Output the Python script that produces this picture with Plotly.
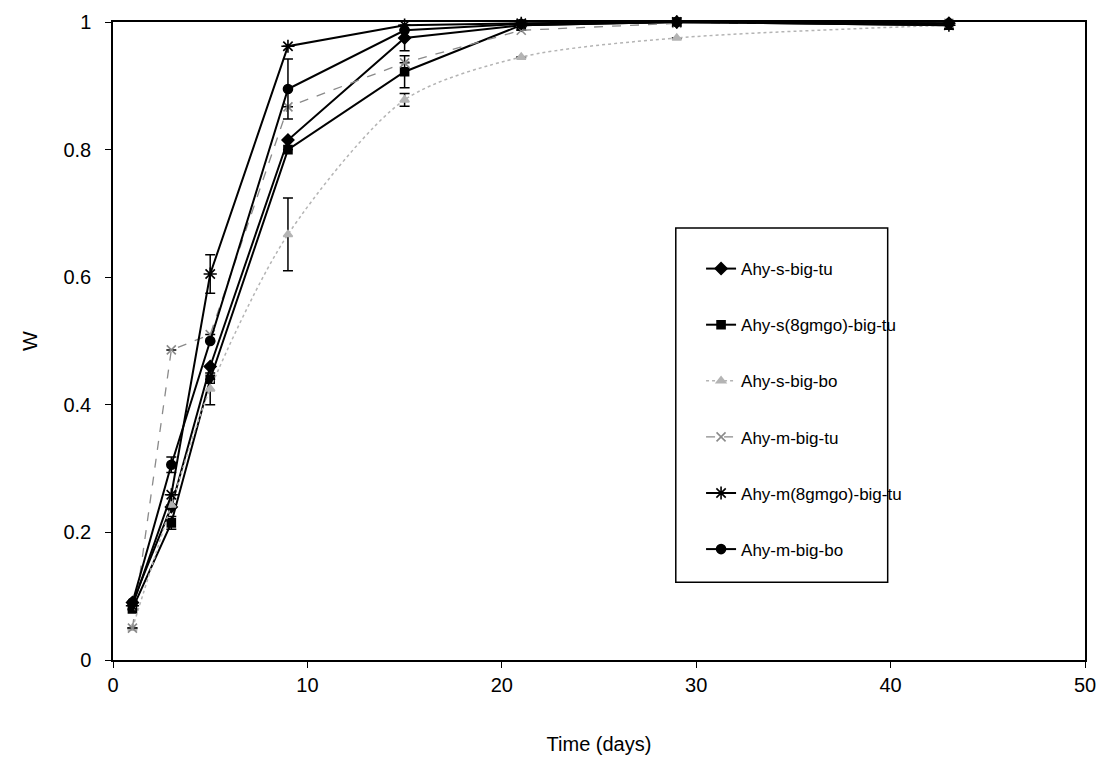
import plotly.graph_objects as go

# Sampling days
time = [1, 3, 5, 9, 15, 21, 29, 43]

# Fractional uptake W for each sample series
s_big_tu = [0.09, 0.24, 0.46, 0.815, 0.975, 0.995, 1.0, 0.998]
s8_big_tu = [0.08, 0.215, 0.44, 0.80, 0.922, 0.995, 1.0, 0.995]
s_big_bo = [0.05, 0.243, 0.425, 0.667, 0.878, 0.945, 0.975, 0.995]
m_big_tu = [0.05, 0.486, 0.51, 0.867, 0.936, 0.987, 0.998, 0.998]
m8_big_tu = [0.085, 0.259, 0.605, 0.962, 0.995, 0.998, 1.0, 0.995]
m_big_bo = [0.09, 0.306, 0.50, 0.895, 0.987, 0.997, 1.0, 0.998]

# Standard deviations (0 where no bar is drawn)
s_big_tu_err = [0, 0, 0, 0, 0.02, 0, 0, 0]
s8_big_tu_err = [0, 0.01, 0, 0, 0.025, 0, 0, 0]
s_big_bo_err = [0, 0, 0.025, 0.057, 0.01, 0, 0, 0]
m_big_tu_err = [0, 0, 0, 0, 0, 0, 0, 0]
m8_big_tu_err = [0, 0, 0.03, 0, 0, 0, 0, 0]
m_big_bo_err = [0, 0.012, 0, 0.047, 0, 0, 0, 0]

series = [
    ("Ahy-s-big-tu", s_big_tu, s_big_tu_err, "diamond", "black", "solid", 2, 9, "linear"),
    ("Ahy-s(8gmgo)-big-tu", s8_big_tu, s8_big_tu_err, "square", "black", "solid", 2, 8, "linear"),
    ("Ahy-s-big-bo", s_big_bo, s_big_bo_err, "triangle-up", "#b4b4b4", "dot", 1.5, 8, "spline"),
    ("Ahy-m-big-tu", m_big_tu, m_big_tu_err, "x-thin-open", "#8a8a8a", "dash", 1.3, 9, "linear"),
    ("Ahy-m(8gmgo)-big-tu", m8_big_tu, m8_big_tu_err, "asterisk-open", "black", "solid", 2, 11, "linear"),
    ("Ahy-m-big-bo", m_big_bo, m_big_bo_err, "circle", "black", "solid", 2, 9, "linear"),
]

fig = go.Figure()
for i, (name, vals, err, sym, col, dash, lw, ms, shape) in enumerate(series):
    fig.add_trace(go.Scatter(
        x=time, y=vals, name=name, mode="lines+markers",
        legendgroup=f"g{i}",
        line=dict(color=col, width=lw, dash=dash, shape=shape, smoothing=0.8),
        marker=dict(symbol=sym, size=ms, color=col, line=dict(color=col, width=1.6)),
        error_y=dict(type="data", array=err, visible=True, color="black",
                     thickness=1.5, width=5),
        cliponaxis=False,
    ))

# Frame around the legend
fig.add_shape(type="rect", xref="paper", yref="paper",
              x0=0.579, x1=0.797, y0=0.122, y1=0.677,
              line=dict(color="black", width=1.5), fillcolor="white", layer="below")

fig.update_layout(
    width=1097, height=757,
    margin=dict(l=113, r=12, t=22, b=97, autoexpand=False),
    paper_bgcolor="white", plot_bgcolor="white",
    font=dict(family="Liberation Sans, Arial, sans-serif", color="black", size=17),
    showlegend=True,
    legend=dict(
        x=0.605, y=0.641, xanchor="left", yanchor="top",
        borderwidth=0, bgcolor="rgba(0,0,0,0)",
        font=dict(size=17), tracegroupgap=31,
    ),
    xaxis=dict(
        range=[0, 50], tickvals=[0, 10, 20, 30, 40, 50],
        ticks="outside", ticklen=6, tickcolor="black",
        showline=True, linecolor="black", linewidth=1.5, mirror=True,
        showgrid=False, zeroline=False, automargin=False,
        tickfont=dict(size=20),
        title=dict(text="Time (days)", font=dict(size=20), standoff=42),
    ),
    yaxis=dict(
        range=[0, 1], tickvals=[0, 0.2, 0.4, 0.6, 0.8, 1],
        ticktext=["0", "0.2", "0.4", "0.6", "0.8", "1"],
        ticks="outside", ticklen=6, tickcolor="black",
        showline=True, linecolor="black", linewidth=1.5, mirror=True,
        showgrid=False, zeroline=False, automargin=False,
        tickfont=dict(size=20), ticklabelstandoff=10,
        title=dict(text="W", font=dict(size=21), standoff=20),
    ),
)

fig.write_html("out.html")
